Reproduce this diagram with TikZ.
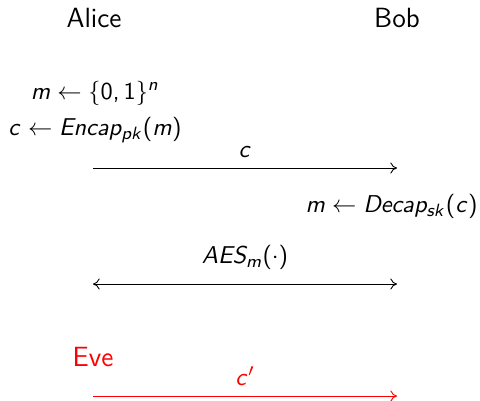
\documentclass[tikz,border=0pt]{standalone}
\usetikzlibrary{arrows.meta}
\DeclareSymbolFont{sfit}{OT1}{cmss}{m}{sl}
\DeclareSymbolFont{sfup}{OT1}{cmss}{m}{n}
\makeatletter
\def\mkletters#1{\ifx#1\relax\else\DeclareMathSymbol{#1}{\mathalpha}{sfit}{`#1}\expandafter\mkletters\fi}
\mkletters abcdefghijklmnopqrstuvwxyzABCDEFGHIJKLMNOPQRSTUVWXYZ\relax
\def\mkdigits#1{\ifx#1\relax\else\DeclareMathSymbol{#1}{\mathord}{sfup}{`#1}\expandafter\mkdigits\fi}
\mkdigits 0123456789\relax
\DeclareMathDelimiter{(}{\mathopen}{sfup}{"28}{largesymbols}{"00}
\DeclareMathDelimiter{)}{\mathclose}{sfup}{"29}{largesymbols}{"01}
\DeclareMathSymbol{,}{\mathpunct}{sfup}{`,}
\makeatother
\begin{document}
\begin{tikzpicture}[x=0.45pt,y=-0.45pt,
  party/.style={font=\fontsize{12.5}{15}\sffamily, inner sep=0pt},
  lbl/.style={font=\fontsize{11}{13}\sffamily, inner sep=0pt},
  tip/.style={},
  msg/.style={-{To[length=3pt,width=5pt]}, line width=0.4pt},
  both/.style={{To[length=3pt,width=5pt]}-{To[length=3pt,width=5pt]}, line width=0.4pt},
  evil/.style={red}]
\useasboundingbox (0,0) rectangle (480,400);
\node[party] (alice) at (94,18) {Alice};
\node[party] (bob) at (397,18) {Bob};
\node[lbl] (gen) at (95,93) {$m \leftarrow \{0,1\}^n$};
\node[lbl, anchor=west] (enc) at (8,130) {$c \leftarrow Encap_{pk}(m)$};
\coordinate (a1) at (93,168);
\coordinate (b1) at (397,168);
\draw[msg] (a1) -- node[lbl, above=4.5pt] (lc) {$c$} (b1);
\node[lbl, anchor=east] (dec) at (478,206) {$m \leftarrow Decap_{sk}(c)$};
\coordinate (a2) at (93,284);
\coordinate (b2) at (397,284);
\draw[both] (a2) -- node[lbl, above=6.3pt] (laes) {$AES_m(\cdot)$} (b2);
\node[party, evil] (eve) at (93,357) {Eve};
\coordinate (a3) at (93,396);
\coordinate (b3) at (397,396);
\draw[msg, evil] (a3) -- node[lbl, above=4.5pt, evil] (lc2) {$c'$} (b3);
\end{tikzpicture}
\end{document}
